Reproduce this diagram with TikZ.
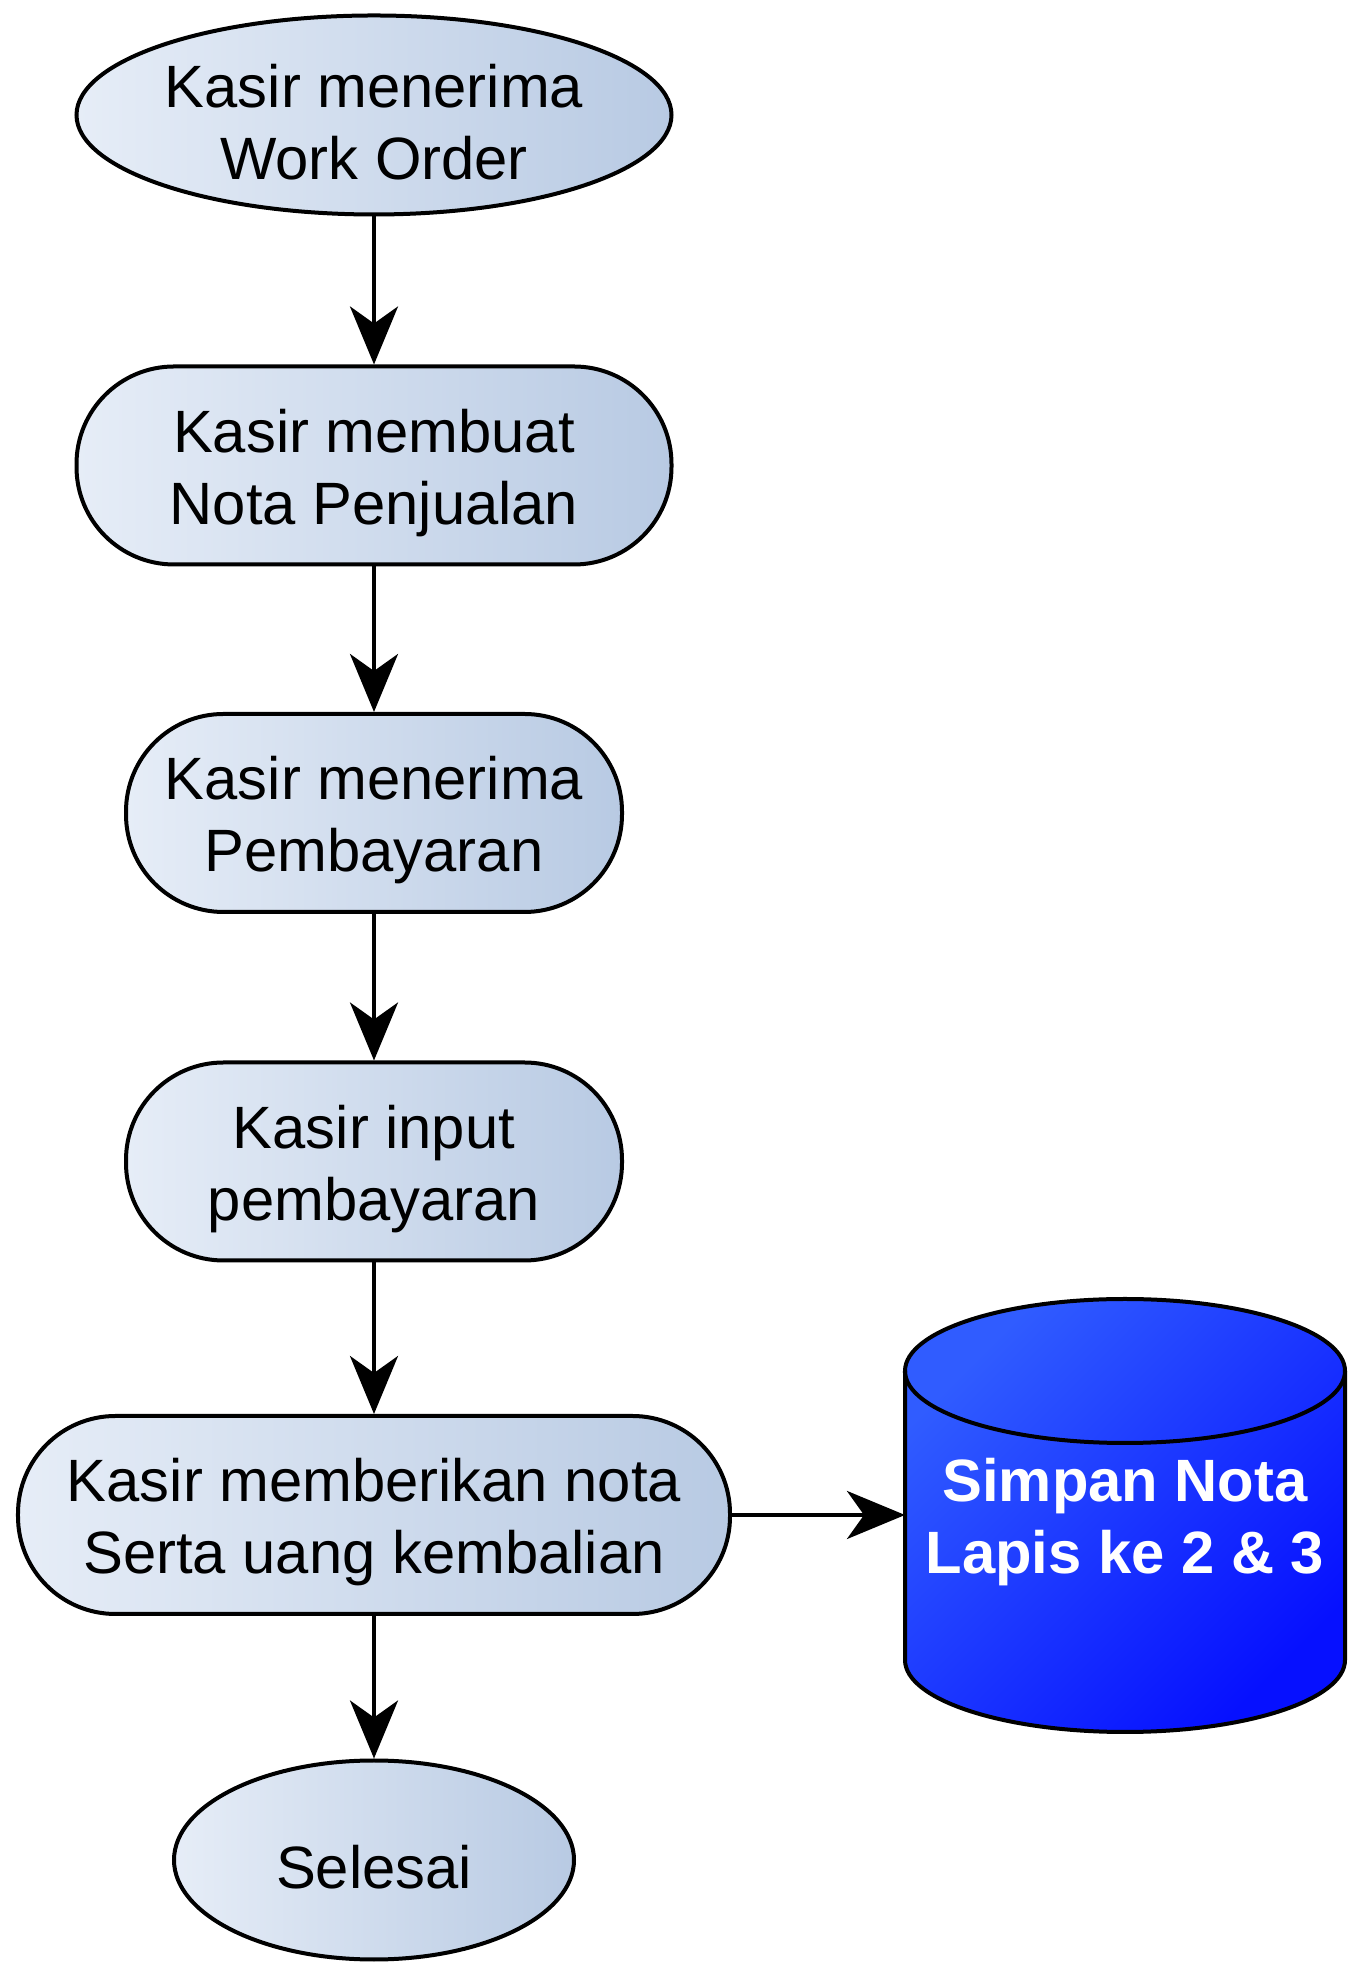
\documentclass[tikz,border=0pt]{standalone}
\usepackage{fontspec}
\setmainfont{Liberation Sans}
\usetikzlibrary{arrows.meta,shapes.geometric}

\definecolor{boxleft}{RGB}{230,237,247}
\definecolor{boxright}{RGB}{184,202,227}
\definecolor{dbtop}{RGB}{48,92,255}
\definecolor{dbbottom}{RGB}{6,16,255}

% baris pertama sedikit lebih tinggi
\newcommand{\geser}{\rule{0pt}{33pt}}

\begin{document}
\begin{tikzpicture}[>={Stealth[length=1.16cm,width=0.96cm,inset=0.34cm]},line width=0.08cm,
  teks/.style={align=center,font=\fontsize{34}{41}\selectfont},
  proses/.style={teks,draw,rectangle,rounded corners=1.95cm,left color=boxleft,right color=boxright,
    minimum height=3.96cm},
  terminal/.style={teks,draw,ellipse,inner xsep=0pt,inner ysep=-4pt,left color=boxleft,right color=boxright,
    minimum height=3.98cm}]

\useasboundingbox (0,0) rectangle (27.2,39.6);

\def\cx{22.5}
\def\rx{4.4}
\def\ry{1.44}

% Alur kasir
\node[terminal,minimum width=11.9cm] (mulai) at (7.48,37.3) {\geser Kasir menerima\\Work Order};
\node[proses,minimum width=11.9cm] (nota) at (7.48,30.29) {\geser Kasir membuat\\Nota Penjualan};
\node[proses,minimum width=9.92cm] (bayar) at (7.48,23.34) {\geser Kasir menerima\\Pembayaran};
\node[proses,minimum width=9.92cm] (input) at (7.48,16.37) {\geser Kasir input\\pembayaran};
\node[proses,minimum width=14.24cm] (kembali) at (7.48,9.3) {\geser Kasir memberikan nota\\Serta uang kembalian};
\node[terminal,minimum width=8cm] (selesai) at (7.48,2.4) {\geser Selesai};

% Arsip (silinder)
\shade[draw,left color=dbtop,right color=dbbottom,shading angle=45]
  ({\cx-\rx},12.18) -- ({\cx-\rx},6.4)
  arc[start angle=180,end angle=360,x radius=\rx cm,y radius=\ry cm]
  -- ({\cx+\rx},12.18)
  arc[start angle=0,end angle=180,x radius=\rx cm,y radius=\ry cm] -- cycle;
\draw ({\cx-\rx},12.18) arc[start angle=180,end angle=360,x radius=\rx cm,y radius=\ry cm];
\node[teks,text=white,font=\bfseries\fontsize{34}{41}\selectfont,
  minimum width=8.8cm,outer sep=0pt] (simpan) at (\cx,9.3) {\geser Simpan Nota\\Lapis ke 2 \& 3};

% Panah
\draw[->] (mulai) -- (nota);
\draw[->] (nota) -- (bayar);
\draw[->] (bayar) -- (input);
\draw[->] (input) -- (kembali);
\draw[->] (kembali) -- (selesai);
\draw[->] (kembali) -- (simpan);

\end{tikzpicture}
\end{document}
